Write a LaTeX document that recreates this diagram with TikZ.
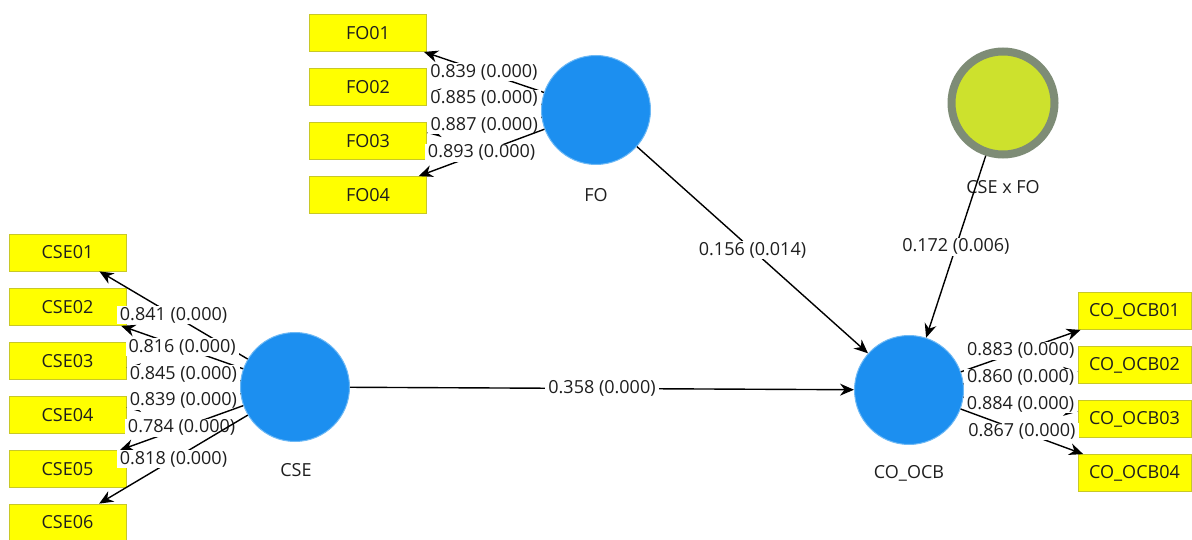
\documentclass[tikz,border=0pt]{standalone}
\usepackage{fontspec}
\setmainfont{Open Sans}
\usetikzlibrary{arrows.meta}
\definecolor{latentblue}{RGB}{28,143,240}
\definecolor{latentedge}{RGB}{110,185,245}
\definecolor{boxfill}{RGB}{255,255,0}
\definecolor{boxedge}{RGB}{200,200,40}
\definecolor{modfill}{RGB}{205,225,45}
\definecolor{modring}{RGB}{126,140,118}
\definecolor{textdark}{RGB}{30,30,30}
\begin{document}
\begin{tikzpicture}[x=1pt,y=-1pt,
  every node/.style={font=\fontsize{18}{21}\selectfont, text=textdark},
  indicator/.style={rectangle, draw=boxedge, fill=boxfill, line width=0.8pt,
    minimum width=117pt, minimum height=37pt, inner sep=0pt},
  latent/.style={circle, fill=latentblue, draw=latentedge, line width=1pt,
    minimum size=109pt, inner sep=0pt},
  moderator/.style={circle, fill=modfill, draw=modring, line width=8pt,
    minimum size=103pt, inner sep=0pt},
  caption/.style={inner sep=1pt},
  relation/.style={draw=black, line width=1.4pt, -{Stealth[length=14pt,width=12pt]}},
  coef/.style={fill=white, inner ysep=1pt, inner xsep=3pt}
]
\useasboundingbox (0,0) rectangle (1192,540);

% indicator boxes of FO
\node[indicator] (FO01) at (368,33)  {FO01};
\node[indicator] (FO02) at (368,87)  {FO02};
\node[indicator] (FO03) at (368,141) {FO03};
\node[indicator] (FO04) at (368,195) {FO04};

% indicator boxes of CSE
\node[indicator] (CSE01) at (67.5,252.5) {CSE01};
\node[indicator] (CSE02) at (67.5,307)   {CSE02};
\node[indicator] (CSE03) at (67.5,361)   {CSE03};
\node[indicator] (CSE04) at (67.5,415)   {CSE04};
\node[indicator] (CSE05) at (67.5,469)   {CSE05};
\node[indicator] (CSE06) at (67.5,522.5) {CSE06};

% indicator boxes of CO_OCB
\node[indicator, minimum width=113pt] (OCB01) at (1134.5,311) {CO\_OCB01};
\node[indicator, minimum width=113pt] (OCB02) at (1134.5,365) {CO\_OCB02};
\node[indicator, minimum width=113pt] (OCB03) at (1134.5,419) {CO\_OCB03};
\node[indicator, minimum width=113pt] (OCB04) at (1134.5,473) {CO\_OCB04};

% latent variables
\node[latent] (FO)  at (596,110) {};
\node[latent] (CSE) at (295,387) {};
\node[latent] (OCB) at (909,390) {};
\node[moderator] (MOD) at (1003,103) {};

\node[caption] (FOcap)  at (596,195) {FO};
\node[caption] (CSEcap) at (296,470) {CSE};
\node[caption] (OCBcap) at (909,473) {CO\_OCB};
\node[caption] (MODcap) at (1003,187) {CSE x FO};

% outer loadings of FO
\draw[relation] (FO) -- node[coef] {0.839 (0.000)} (FO01);
\draw[relation] (FO) -- node[coef] {0.885 (0.000)} (FO02);
\draw[relation] (FO) -- node[coef] {0.887 (0.000)} (FO03);
\draw[relation] (FO) -- node[coef] {0.893 (0.000)} (FO04);

% outer loadings of CSE
\draw[relation] (CSE) -- node[coef] {0.841 (0.000)} (CSE01);
\draw[relation] (CSE) -- node[coef] {0.816 (0.000)} (CSE02);
\draw[relation] (CSE) -- node[coef] {0.845 (0.000)} (CSE03);
\draw[relation] (CSE) -- node[coef] {0.839 (0.000)} (CSE04);
\draw[relation] (CSE) -- node[coef] {0.784 (0.000)} (CSE05);
\draw[relation] (CSE) -- node[coef] {0.818 (0.000)} (CSE06);

% outer loadings of CO_OCB
\draw[relation] (OCB) -- node[coef] {0.883 (0.000)} (OCB01);
\draw[relation] (OCB) -- node[coef] {0.860 (0.000)} (OCB02);
\draw[relation] (OCB) -- node[coef] {0.884 (0.000)} (OCB03);
\draw[relation] (OCB) -- node[coef] {0.867 (0.000)} (OCB04);

% structural paths
\draw[relation] (FO)  -- node[coef] {0.156 (0.014)} (OCB);
\draw[relation] (MOD) -- node[coef] {0.172 (0.006)} (OCB);
\draw[relation] (CSE) -- node[coef] {0.358 (0.000)} (OCB);
\end{tikzpicture}
\end{document}
